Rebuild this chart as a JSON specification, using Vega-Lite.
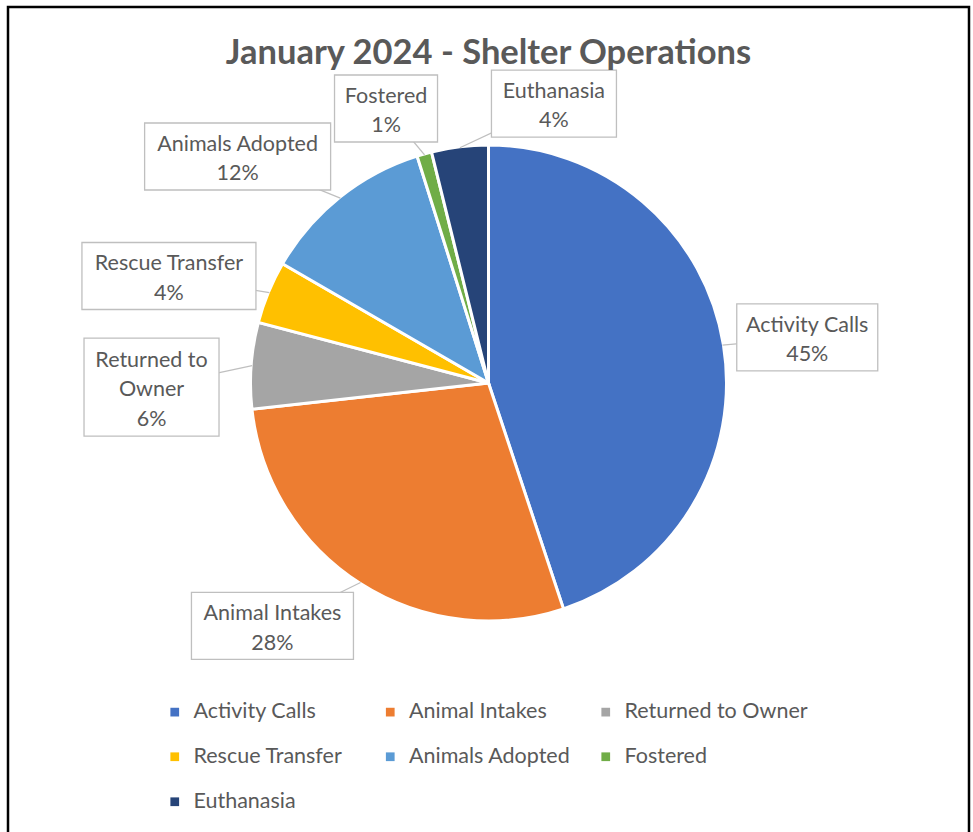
{
  "$schema": "https://vega.github.io/schema/vega-lite/v6.json",
  "width": 961,
  "height": 829,
  "autosize": {"type": "none"},
  "padding": {"left": 8, "top": 7, "right": 4, "bottom": -4},
  "background": "white",
  "view": {"stroke": "black", "strokeWidth": 2.5},
  "config": {"view": {"stroke": "black", "strokeWidth": 2.5}, "font": "Lato"},
  "title": {"text": "January 2024 - Shelter Operations", "fontSize": 34.5, "font": "Lato", "fontWeight": "bold", "color": "#595959", "offset": -64, "anchor": "middle"},
  "data": {"values": [
    {"cat": "Activity Calls", "value": 44.9, "idx": 1},
    {"cat": "Animal Intakes", "value": 28.35, "idx": 2},
    {"cat": "Returned to Owner", "value": 5.85, "idx": 3},
    {"cat": "Rescue Transfer", "value": 4.25, "idx": 4},
    {"cat": "Animals Adopted", "value": 11.8, "idx": 5},
    {"cat": "Fostered", "value": 1.0, "idx": 6},
    {"cat": "Euthanasia", "value": 3.85, "idx": 7}
  ]},
  "transform": [
    {"stack": "value", "groupby": [], "sort": [{"field": "idx", "order": "ascending"}], "as": ["v0", "v1"]},
    {"calculate": "datum.cat === 'Returned to Owner' ? ['Returned to', 'Owner', format(datum.value / 100, '.0%')] : [datum.cat, format(datum.value / 100, '.0%')]", "as": "label"},
    {"calculate": "PI * (datum.v0 + datum.v1) / 100", "as": "mid"},
    {"calculate": "datum.cat === 'Activity Calls' ? 0.018 : datum.cat === 'Animal Intakes' ? 0.157 : datum.cat === 'Returned to Owner' ? -0.086 : datum.cat === 'Rescue Transfer' ? -0.068 : datum.cat === 'Animals Adopted' ? -0.161 : datum.cat === 'Fostered' ? -0.084 : 0.351", "as": "nudge"},
    {"calculate": "datum.cat === 'Activity Calls' ? 322 : datum.cat === 'Animal Intakes' ? 325 : datum.cat === 'Returned to Owner' ? 337 : datum.cat === 'Rescue Transfer' ? 337 : datum.cat === 'Animals Adopted' ? 338 : datum.cat === 'Fostered' ? 293 : 287", "as": "dist"},
    {"calculate": "datum.dist * sin(datum.mid + datum.nudge)", "as": "lx"},
    {"calculate": "datum.dist * cos(datum.mid + datum.nudge)", "as": "ly"},
    {"calculate": "237 * sin(datum.mid)", "as": "ex"},
    {"calculate": "237 * cos(datum.mid)", "as": "ey"},
    {"calculate": "datum.ly + (length(datum.label) - 1) * 14.75", "as": "ty"}
  ],
  "layer": [
    {
      "mark": {"type": "arc", "radius": 238, "stroke": "white", "strokeWidth": 3, "yOffset": -38.5},
      "encoding": {
        "theta": {"field": "value", "type": "quantitative", "stack": true},
        "order": {"field": "idx", "type": "quantitative"},
        "color": {
          "field": "cat", "type": "nominal",
          "scale": {
            "domain": ["Activity Calls", "Animal Intakes", "Returned to Owner", "Rescue Transfer", "Animals Adopted", "Fostered", "Euthanasia"],
            "range": ["#4472C4", "#ED7D31", "#A5A5A5", "#FFC000", "#5B9BD5", "#70AD47", "#264478"]
          },
          "legend": {"orient": "none", "legendX": 156, "legendY": 694, "columns": 3, "title": null, "symbolType": "square", "symbolSize": 76, "labelFontSize": 21.5, "labelFont": "Lato", "labelColor": "#595959", "rowPadding": 22, "columnPadding": 2.5, "gridAlign": "all", "labelOffset": 8, "labelLimit": 300, "symbolStrokeWidth": 0, "direction": "horizontal"}
        }
      }
    },
    {
      "mark": {"type": "rule", "color": "#BFBFBF", "strokeWidth": 1.3},
      "encoding": {
        "x": {"field": "ex", "type": "quantitative", "scale": {"domain": [-480.5, 480.5], "nice": false, "zero": false}, "axis": null},
        "y": {"field": "ey", "type": "quantitative", "scale": {"domain": [-453, 376], "nice": false, "zero": false}, "axis": null},
        "x2": {"field": "lx"},
        "y2": {"field": "ly"}
      }
    },
    {
      "mark": {"type": "point", "size": 40000, "filled": true, "fill": "white", "stroke": "#BFBFBF", "strokeWidth": 1.3, "opacity": 1},
      "encoding": {
        "x": {"field": "lx", "type": "quantitative"},
        "y": {"field": "ly", "type": "quantitative"},
        "shape": {
          "field": "idx", "type": "nominal", "legend": null,
          "scale": {
            "domain": [1, 2, 3, 4, 5, 6, 7],
            "range": ["M-0.705,-0.335H0.705V0.335H-0.705Z", "M-0.81,-0.335H0.81V0.335H-0.81Z", "M-0.675,-0.49H0.675V0.49H-0.675Z", "M-0.87,-0.335H0.87V0.335H-0.87Z", "M-0.93,-0.335H0.93V0.335H-0.93Z", "M-0.515,-0.335H0.515V0.335H-0.515Z", "M-0.625,-0.335H0.625V0.335H-0.625Z"]
          }
        }
      }
    },
    {
      "mark": {"type": "text", "fontSize": 21.5, "lineHeight": 29.5, "color": "#595959", "font": "Lato", "align": "center", "baseline": "middle", "dy": 3},
      "encoding": {
        "x": {"field": "lx", "type": "quantitative"},
        "y": {"field": "ty", "type": "quantitative"},
        "text": {"field": "label"}
      }
    }
  ]
}
